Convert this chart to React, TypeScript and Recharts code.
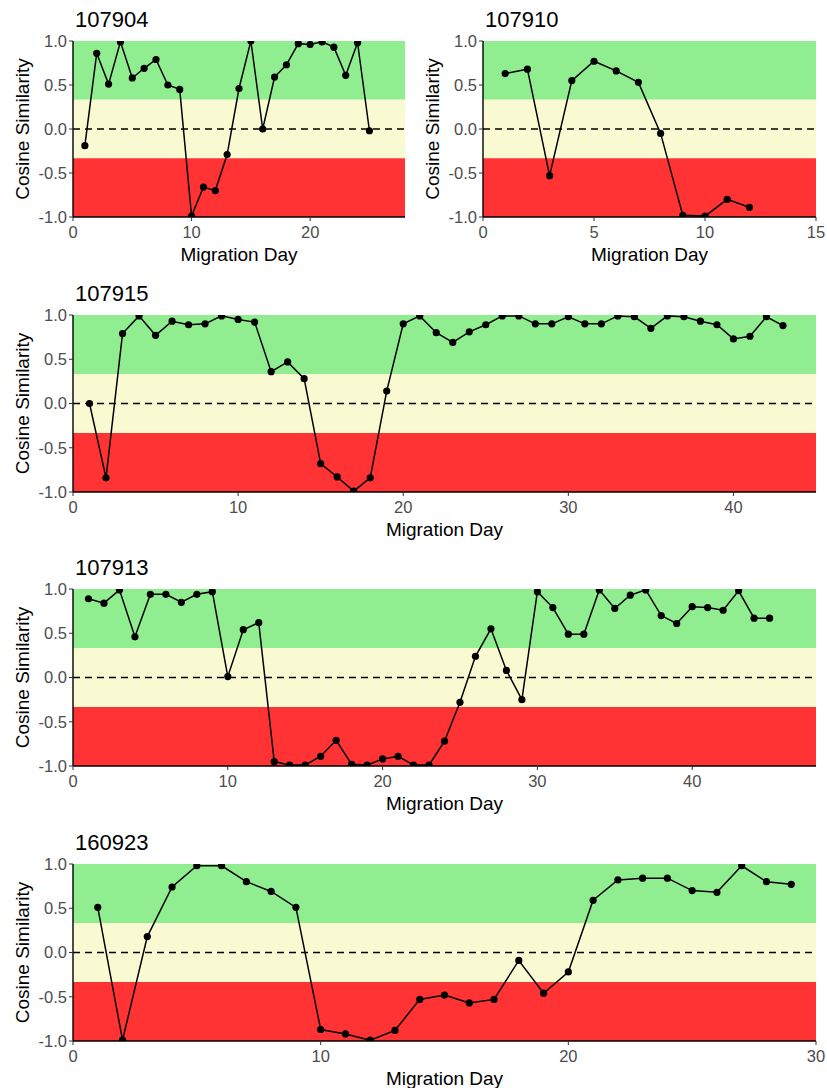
import React from 'react';
import { LineChart, Line, XAxis, YAxis, ReferenceArea, ReferenceLine } from 'recharts';

// cosine similarity per migration day (day 1..n)
const bird107904 = [-0.19, 0.86, 0.51, 0.99, 0.58, 0.69, 0.79, 0.5, 0.45, -0.99, -0.66, -0.7, -0.29, 0.46, 1.0, 0.0, 0.59, 0.73, 0.97, 0.96, 0.99, 0.93, 0.61, 0.98, -0.02];
const bird107910 = [0.63, 0.68, -0.53, 0.55, 0.77, 0.66, 0.53, -0.05, -0.98, -0.99, -0.8, -0.89];
const bird107915 = [0.0, -0.84, 0.79, 0.99, 0.77, 0.93, 0.89, 0.9, 0.99, 0.95, 0.92, 0.36, 0.47, 0.28, -0.68, -0.83, -0.99, -0.84, 0.14, 0.9, 0.99, 0.8, 0.69, 0.81, 0.89, 0.99, 0.99, 0.9, 0.9, 0.98, 0.9, 0.9, 0.99, 0.98, 0.85, 0.99, 0.98, 0.93, 0.89, 0.73, 0.76, 0.98, 0.88];
const bird107913 = [0.89, 0.84, 0.99, 0.46, 0.94, 0.94, 0.85, 0.94, 0.97, 0.01, 0.54, 0.62, -0.95, -0.99, -0.99, -0.89, -0.71, -0.98, -0.99, -0.92, -0.89, -0.99, -0.99, -0.72, -0.28, 0.24, 0.55, 0.08, -0.25, 0.97, 0.79, 0.49, 0.49, 0.99, 0.78, 0.93, 0.99, 0.7, 0.61, 0.8, 0.79, 0.76, 0.98, 0.67, 0.67];
const bird160923 = [0.51, -0.99, 0.18, 0.74, 0.98, 0.98, 0.8, 0.69, 0.51, -0.87, -0.92, -0.99, -0.88, -0.53, -0.48, -0.57, -0.53, -0.09, -0.46, -0.22, 0.59, 0.82, 0.84, 0.84, 0.7, 0.68, 0.98, 0.8, 0.77];

const yTicks = [-1, -0.5, 0, 0.5, 1];
const bands = [
  { y1: 1 / 3, y2: 1, fill: '#90EE90' },
  { y1: -1 / 3, y2: 1 / 3, fill: '#FAFAD2' },
  { y1: -1, y2: -1 / 3, fill: '#FF3333' },
];

const FONT = '"Liberation Sans", Arial, sans-serif';
const TOP = 41;
const XAXIS_H = 30;
const YAXIS_W = 73;

interface PanelProps {
  title: string;
  values: number[];
  xMax: number;
  xTicks: number[];
  left: number;
  top: number;
  width: number;
  rightPad: number;
  plotH: number;
}

const Panel: React.FC<PanelProps> = ({ title, values, xMax, xTicks, left, top, width, rightPad, plotH }) => {
  const data = values.map((v, i) => ({ day: i + 1, v }));
  const height = TOP + plotH + XAXIS_H;
  const plotW = width - YAXIS_W - rightPad;
  return (
    <div style={{ position: 'absolute', left, top, width, height }}>
      <LineChart width={width} height={height} data={data} margin={{ top: TOP, right: rightPad, bottom: 0, left: 0 }}>
        {bands.map(b => (
          <ReferenceArea key={b.fill} y1={b.y1} y2={b.y2} fill={b.fill} fillOpacity={1} stroke="none" />
        ))}
        <ReferenceLine y={0} stroke="#000" strokeWidth={1.5} strokeDasharray="7 5" />
        <XAxis
          type="number"
          dataKey="day"
          domain={[0, xMax]}
          ticks={xTicks}
          interval={0}
          allowDataOverflow
          height={XAXIS_H}
          tickSize={4}
          tickMargin={5}
          axisLine={{ stroke: '#000', strokeWidth: 1.4 }}
          tickLine={{ stroke: '#333' }}
          tick={{ fill: '#4D4D4D', fontSize: 16.5, fontFamily: FONT }}
        />
        <YAxis
          type="number"
          domain={[-1, 1]}
          ticks={yTicks}
          interval={0}
          allowDataOverflow
          width={YAXIS_W}
          tickSize={4}
          tickMargin={2}
          tickFormatter={(v: number) => v.toFixed(1)}
          axisLine={{ stroke: '#000', strokeWidth: 1.4 }}
          tickLine={{ stroke: '#333' }}
          tick={{ fill: '#4D4D4D', fontSize: 16.5, fontFamily: FONT }}
        />
        <Line
          type="linear"
          dataKey="v"
          stroke="#000"
          strokeWidth={1.5}
          dot={{ r: 3.6, fill: '#000', stroke: '#000', strokeWidth: 0 }}
          isAnimationActive={false}
        />
      </LineChart>
      <svg
        width={width}
        height={height + 20}
        style={{ position: 'absolute', left: 0, top: 0, overflow: 'visible', pointerEvents: 'none' }}
        fontFamily={FONT}
      >
        <text x={YAXIS_W + 2} y={TOP - 14} fontSize={22} fill="#000">{title}</text>
        <text
          transform={`translate(29, ${TOP + plotH / 2}) rotate(-90)`}
          textAnchor="middle"
          fontSize={19}
          fill="#000"
        >
          Cosine Similarity
        </text>
        <text x={YAXIS_W + plotW / 2} y={TOP + plotH + 43.5} textAnchor="middle" fontSize={19} fill="#000">
          Migration Day
        </text>
      </svg>
    </div>
  );
};

export default function App() {
  return (
    <div style={{ position: 'relative', width: 827, height: 1088, overflow: 'hidden', fontFamily: FONT }}>
      <style>{'body{margin:0;overflow:hidden;background:#fff}'}</style>
      <Panel title="107904" values={bird107904} xMax={28} xTicks={[0, 10, 20]} left={0} top={0} width={410} rightPad={5} plotH={176} />
      <Panel title="107910" values={bird107910} xMax={15} xTicks={[0, 5, 10, 15]} left={410} top={0} width={417} rightPad={11} plotH={176} />
      <Panel title="107915" values={bird107915} xMax={45} xTicks={[0, 10, 20, 30, 40]} left={0} top={274} width={827} rightPad={11} plotH={177} />
      <Panel title="107913" values={bird107913} xMax={48} xTicks={[0, 10, 20, 30, 40]} left={0} top={548} width={827} rightPad={11} plotH={177} />
      <Panel title="160923" values={bird160923} xMax={30} xTicks={[0, 10, 20, 30]} left={0} top={823} width={827} rightPad={11} plotH={177} />
    </div>
  );
}
